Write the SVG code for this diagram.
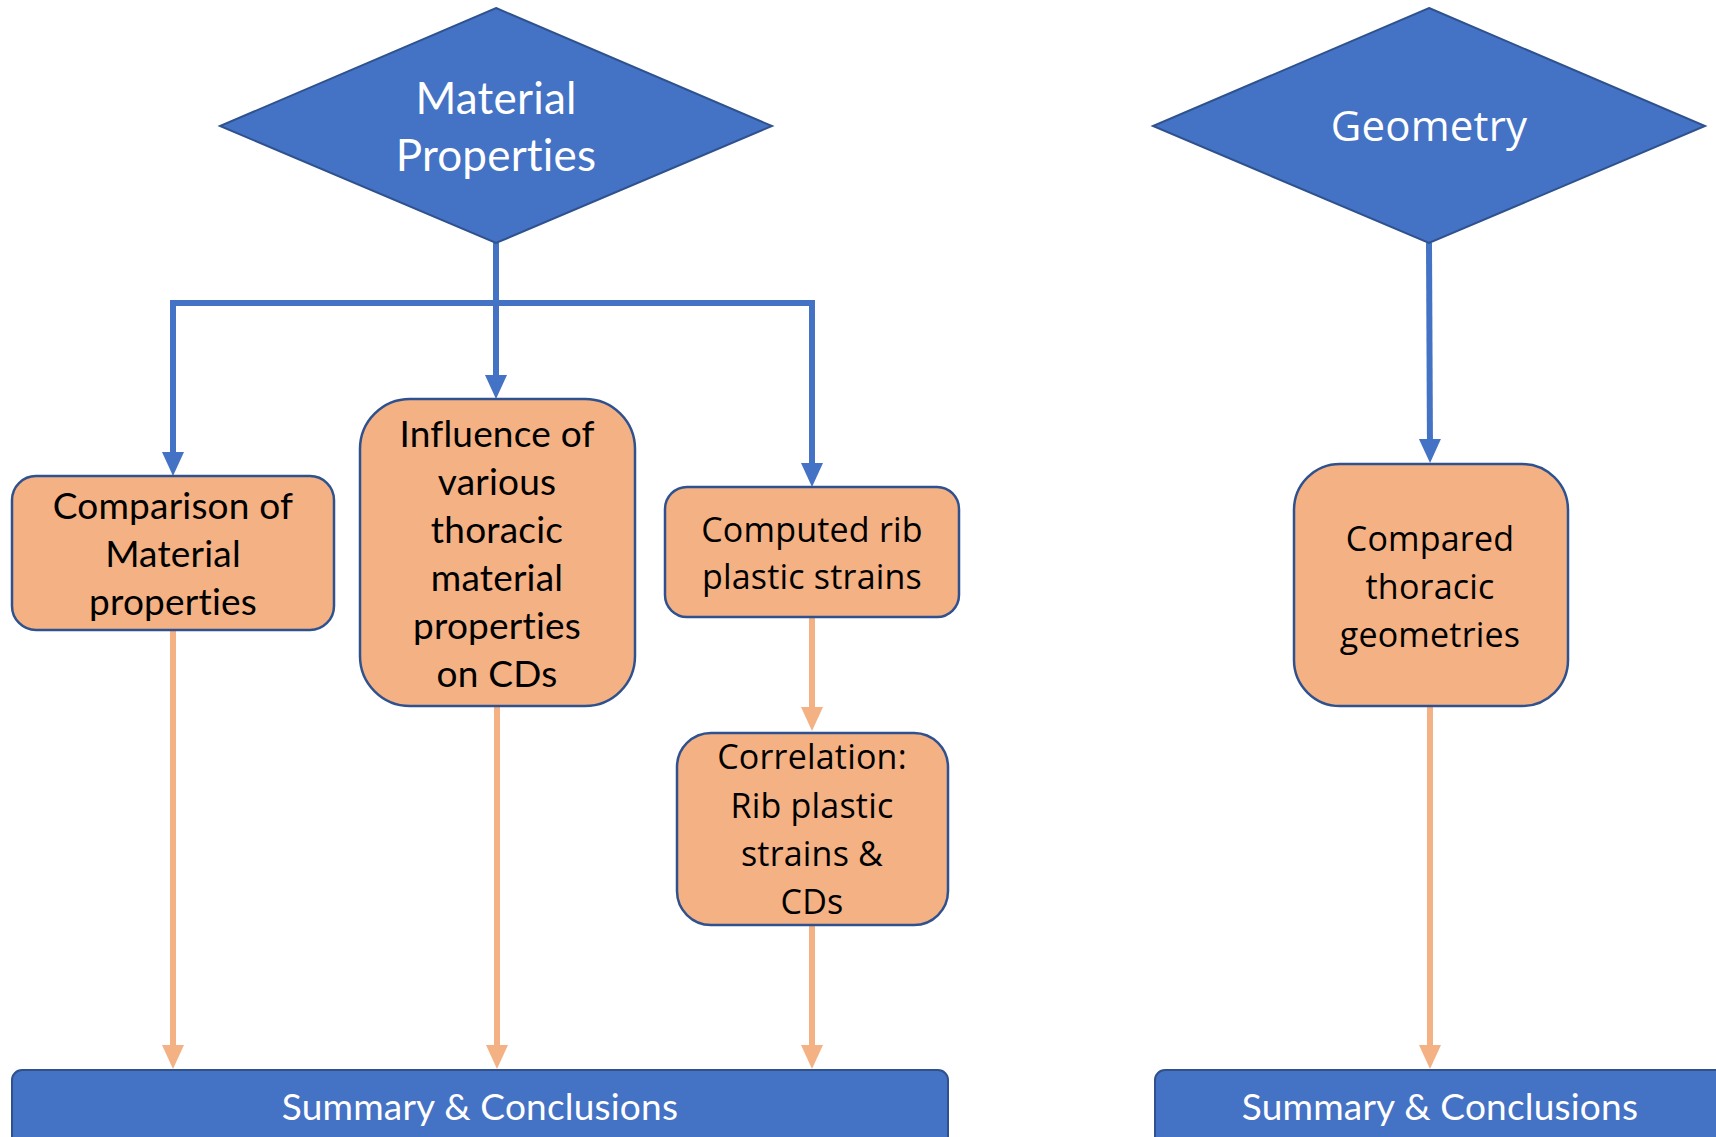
<svg xmlns="http://www.w3.org/2000/svg" width="1716" height="1137" viewBox="0 0 1716 1137">
<style>
text{font-variant-ligatures:none;font-feature-settings:"liga" 0,"clig" 0,"dlig" 0;letter-spacing:0.2px}
.dia{fill:#4472C4;stroke:#2F528F;stroke-width:2}
.box{fill:#F4B183;stroke:#2F528F;stroke-width:2.5}
.bar{fill:#4472C4;stroke:#2F528F;stroke-width:2}
.blue{fill:none;stroke:#4472C4;stroke-width:6;stroke-linejoin:miter}
.org{fill:none;stroke:#F4B183;stroke-width:6}
.tw{fill:#FFFFFF;font-family:Lato,"Open Sans",sans-serif;text-anchor:middle}
.tl{fill:#000000;font-family:Lato,"Open Sans",sans-serif;font-size:37px;text-anchor:middle}
.to{fill:#000000;font-family:"Open Sans","Noto Sans",sans-serif;font-size:34px;text-anchor:middle}
</style>
<defs>
<marker id="ab" viewBox="0 0 24 24" markerUnits="userSpaceOnUse" markerWidth="24" markerHeight="24" refX="13" refY="12" orient="auto"><path d="M0,1 L24,12 L0,23 z" fill="#4472C4"/></marker>
<marker id="ao" viewBox="0 0 24 24" markerUnits="userSpaceOnUse" markerWidth="24" markerHeight="24" refX="13" refY="12" orient="auto"><path d="M0,1 L24,12 L0,23 z" fill="#F4B183"/></marker>
</defs>
<rect width="1716" height="1137" fill="#FFFFFF"/>
<g id="connectors">
<path class="blue" d="M496,243 V388" marker-end="url(#ab)"/>
<path class="blue" d="M496,303 H173 V465" marker-end="url(#ab)"/>
<path class="blue" d="M496,303 H812 V476" marker-end="url(#ab)"/>
<path class="blue" d="M1429,243 L1430,452" marker-end="url(#ab)"/>
<path class="org" d="M173,631 V1058" marker-end="url(#ao)"/>
<path class="org" d="M497,707 V1058" marker-end="url(#ao)"/>
<path class="org" d="M812,618 V720" marker-end="url(#ao)"/>
<path class="org" d="M812,926 V1058" marker-end="url(#ao)"/>
<path class="org" d="M1430,707 V1058" marker-end="url(#ao)"/>
</g>
<g id="material-properties">
<polygon class="dia" points="496,8 772,126 496,243 220,126"/>
<text class="tw" x="496" y="114" font-size="44">Material</text>
<text class="tw" x="496" y="171" font-size="44">Properties</text>
</g>
<g id="geometry">
<polygon class="dia" points="1429,8 1705,126 1429,243 1153,126"/>
<text class="tw" x="1429" y="141" font-size="42" style="font-family:'Open Sans','Noto Sans',sans-serif">Geometry</text>
</g>
<g id="comparison">
<rect class="box" x="12" y="476" width="322" height="154" rx="24"/>
<text class="tl" x="173" y="519">Comparison of</text>
<text class="tl" x="173" y="567">Material</text>
<text class="tl" x="173" y="615">properties</text>
</g>
<g id="influence">
<rect class="box" x="360" y="399" width="275" height="307" rx="50"/>
<text class="tl" x="497" y="447">Influence of</text>
<text class="tl" x="497" y="495">various</text>
<text class="tl" x="497" y="543">thoracic</text>
<text class="tl" x="497" y="591">material</text>
<text class="tl" x="497" y="639">properties</text>
<text class="tl" x="497" y="687">on CDs</text>
</g>
<g id="computed">
<rect class="box" x="665" y="487" width="294" height="130" rx="22"/>
<text class="to" x="812" y="542">Computed rib</text>
<text class="to" x="812" y="589">plastic strains</text>
</g>
<g id="correlation">
<rect class="box" x="677" y="733" width="271" height="192" rx="34"/>
<text class="to" x="812" y="769">Correlation:</text>
<text class="to" x="812" y="818">Rib plastic</text>
<text class="to" x="812" y="866">strains &amp;</text>
<text class="to" x="812" y="914">CDs</text>
</g>
<g id="compared">
<rect class="box" x="1294" y="464" width="274" height="242" rx="46"/>
<text class="to" x="1430" y="551">Compared</text>
<text class="to" x="1430" y="599">thoracic</text>
<text class="to" x="1430" y="647">geometries</text>
</g>
<g id="summary-left">
<rect class="bar" x="12" y="1070" width="936" height="90" rx="10"/>
<text class="tw" x="480" y="1120" font-size="37">Summary &amp; Conclusions</text>
</g>
<g id="summary-right">
<rect class="bar" x="1155" y="1070" width="600" height="90" rx="10"/>
<text class="tw" x="1440" y="1120" font-size="37">Summary &amp; Conclusions</text>
</g>
</svg>
